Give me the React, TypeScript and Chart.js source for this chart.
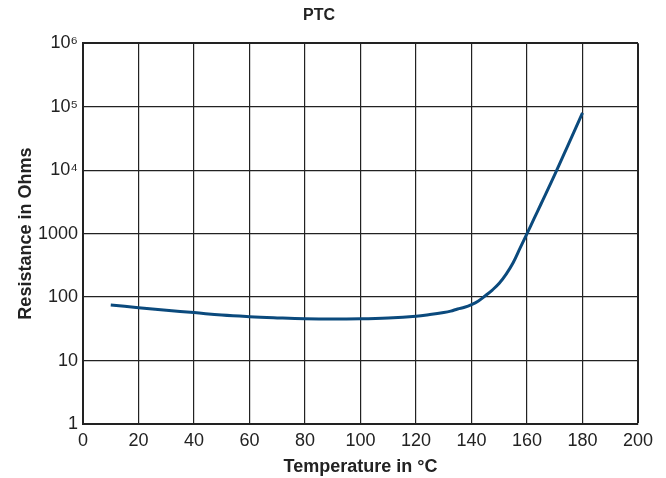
import React, { useEffect, useRef } from "react";
import { Chart, registerables } from "chart.js";

Chart.register(...registerables);

const temperatures = [10, 20, 30, 40, 50, 60, 70, 80, 90, 100, 110, 120, 125, 130, 132.5, 135, 137.5, 140, 142.5, 145, 147.5, 150, 152.5, 155, 157.5, 160, 162.5, 165, 170, 175, 180];
const resistance = [75, 68, 62, 57, 52, 49, 47, 45.5, 45, 45.5, 47, 50, 53, 57, 60, 65, 69, 76, 87, 105, 129, 165, 230, 347, 590, 1000, 1700, 2900, 8500, 26000, 80000];
const yTickValues = [1, 10, 100, 1000, 10000, 100000, 1000000];
const yTickLabels = ["1", "10", "100", "1000", "10⁴", "10⁵", "10⁶"];

const FONT = "'Liberation Sans Narrow', 'Liberation Sans', Arial, sans-serif";

export default function App() {
  const ref = useRef<HTMLCanvasElement | null>(null);
  useEffect(() => {
    if (!ref.current) return;
    const chart = new Chart(ref.current, {
      type: "line",
      data: {
        datasets: [
          {
            data: temperatures.map((t, i) => ({ x: t, y: resistance[i] })),
            borderColor: "#0b4a7d",
            borderWidth: 3,
            pointRadius: 0,
            tension: 0.4,
            fill: false,
          },
        ],
      },
      options: {
        animation: false,
        responsive: false,
        layout: { padding: { left: 0, right: 28, top: 0, bottom: 0 } },
        plugins: {
          legend: { display: false },
          tooltip: { enabled: false },
          title: {
            display: true,
            text: "PTC",
            color: "#222",
            font: { family: FONT, size: 16, weight: "bold" },
            padding: { top: 6, bottom: 18 },
          },
        },
        scales: {
          x: {
            type: "linear",
            min: 0,
            max: 200,
            ticks: {
              stepSize: 20,
              color: "#222",
              font: { family: FONT, size: 18 },
              padding: 6,
              maxRotation: 0,
            },
            grid: {
              drawTicks: false,
              color: "#222",
              lineWidth: (c: any) => (c.index === 10 ? 2 : 1.2),
            },
            border: { color: "#222", width: 2 },
            title: {
              display: true,
              text: "Temperature in °C",
              color: "#222",
              font: { family: FONT, size: 18, weight: "bold" },
              padding: { top: 0, bottom: 0 },
            },
            afterFit: (s: any) => {
              s.height = 54;
            },
          },
          y: {
            type: "logarithmic",
            min: 1,
            max: 1000000,
            afterBuildTicks: (s: any) => {
              s.ticks = yTickValues.map((v) => ({ value: v }));
            },
            ticks: {
              color: "#222",
              font: { family: FONT, size: 18 },
              padding: 5,
              callback: (v: any) => {
                const i = yTickValues.indexOf(Number(v));
                return i >= 0 ? yTickLabels[i] : "";
              },
            },
            grid: {
              drawTicks: false,
              color: "#222",
              lineWidth: (c: any) => (c.index === 6 ? 2 : 1.2),
            },
            border: { color: "#222", width: 2 },
            title: {
              display: true,
              text: "Resistance in Ohms",
              color: "#222",
              font: { family: FONT, size: 18, weight: "bold" },
              padding: { top: 15, bottom: 0 },
            },
            afterFit: (s: any) => {
              s.width = 83;
            },
          },
        },
      },
    });
    return () => chart.destroy();
  }, []);
  return (
    <div style={{ position: "fixed", left: 0, top: 0, width: 666, height: 478, background: "#fff" }}>
      <canvas ref={ref} width={666} height={478} style={{ width: 666, height: 478 }} />
    </div>
  );
}
